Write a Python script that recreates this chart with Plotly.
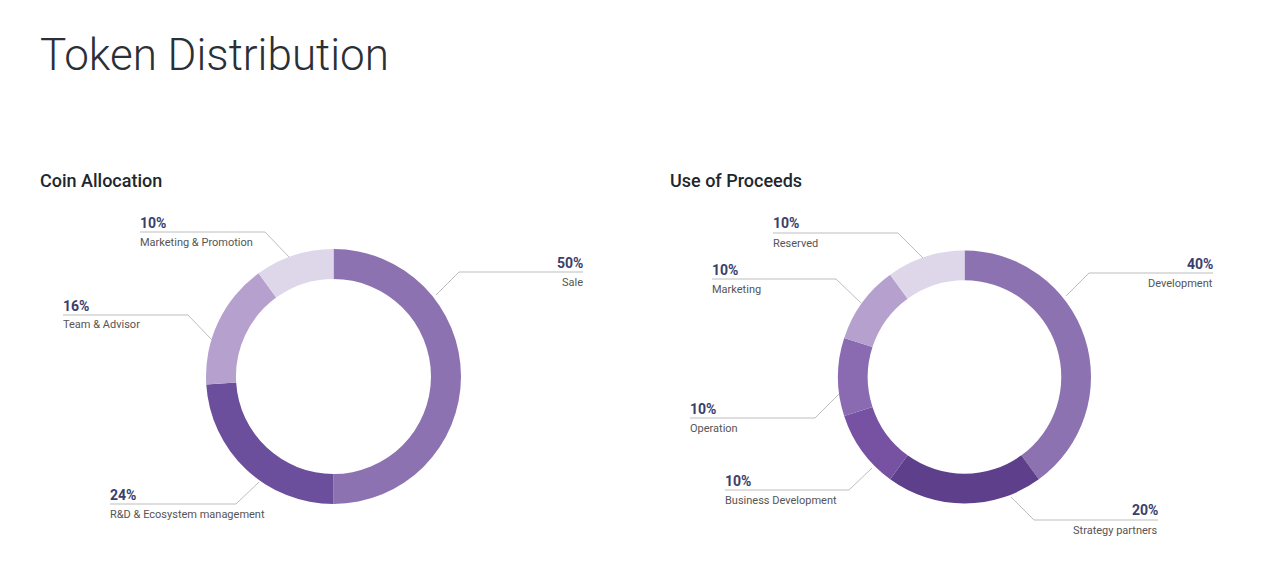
import plotly.graph_objects as go

W, H = 1280, 583

# chart data
coin_labels = ['Sale', 'R&D & Ecosystem management', 'Team & Advisor', 'Marketing & Promotion']
coin_values = [50, 24, 16, 10]
coin_colors = ['#8C72B0', '#6C4F9C', '#B6A1CE', '#DED6E9']

proceeds_labels = ['Development', 'Strategy partners', 'Business Development',
                   'Operation', 'Marketing', 'Reserved']
proceeds_values = [40, 20, 10, 10, 10, 10]
proceeds_colors = ['#8C72B0', '#5D3F8C', '#7752A3', '#8A6AB1', '#B6A1CE', '#DED6E9']

# callout layout in pixels: text x, percent y, elbow (x, y), ring point (x, y), side
coin_callouts = [
    (583, 263, (459, 272), (436, 295), 'right'),
    (110, 495, (236, 504), (259, 482), 'left'),
    (63, 306, (188, 315), (212, 340), 'left'),
    (140, 223, (265, 232), (289, 257), 'left'),
]
proceeds_callouts = [
    (1213, 264, (1089, 273), (1066, 296), 'right'),
    (1158, 510, (1034, 520), (1011, 497), 'right'),
    (725, 481, (849, 490), (872, 468), 'left'),
    (690, 409, (815, 418), (839, 394), 'left'),
    (712, 270, (836, 279), (861, 303), 'left'),
    (773, 223, (898, 233), (923, 258), 'left'),
]


def px(x):
    return x / W


def py(y):
    return 1 - y / H


fig = go.Figure()

fig.add_trace(go.Pie(
    labels=coin_labels, values=coin_values, hole=0.765, sort=False,
    direction='clockwise', rotation=0, textinfo='none',
    marker=dict(colors=coin_colors, line=dict(width=0)),
    domain=dict(x=[px(206), px(461)], y=[py(504), py(249)]),
    showlegend=False,
))
fig.add_trace(go.Pie(
    labels=proceeds_labels, values=proceeds_values, hole=0.765, sort=False,
    direction='clockwise', rotation=0, textinfo='none',
    marker=dict(colors=proceeds_colors, line=dict(width=0)),
    domain=dict(x=[px(838), px(1091)], y=[py(504), py(250)]),
    showlegend=False,
))

shapes = []
annotations = []
line_color = '#BDBDBD'

for labels, values, callouts in [(coin_labels, coin_values, coin_callouts),
                                 (proceeds_labels, proceeds_values, proceeds_callouts)]:
    for lab, val, (tx, ty, elbow, ring, side) in zip(labels, values, callouts):
        ex, ey = elbow
        rx, ry = ring
        # horizontal rule under the percentage, then diagonal to the ring
        shapes.append(dict(type='line', xref='paper', yref='paper',
                           x0=px(tx), y0=py(ey), x1=px(ex), y1=py(ey),
                           line=dict(color=line_color, width=1)))
        shapes.append(dict(type='line', xref='paper', yref='paper',
                           x0=px(ex), y0=py(ey), x1=px(rx), y1=py(ry),
                           line=dict(color=line_color, width=1)))
        anchor = 'left' if side == 'left' else 'right'
        shift = -2 if side == 'left' else 2
        annotations.append(dict(
            x=px(tx), y=py(ty), xref='paper', yref='paper', xshift=shift,
            xanchor=anchor, yanchor='middle', showarrow=False,
            text=f'<b>{val}%</b>',
            font=dict(family='Roboto', size=14, color='#3A3E6C'),
        ))
        annotations.append(dict(
            x=px(tx), y=py(ey + 10), xref='paper', yref='paper', xshift=shift,
            xanchor=anchor, yanchor='middle', showarrow=False,
            text=lab,
            font=dict(family='Roboto', size=11, color='#555555'),
        ))

# headings
annotations.append(dict(x=px(38), y=py(55), xref='paper', yref='paper',
                        xanchor='left', yanchor='middle', showarrow=False,
                        text='Token Distribution',
                        font=dict(family='Roboto', size=44, weight=300, color='#2B3036')))
annotations.append(dict(x=px(38), y=py(180), xref='paper', yref='paper',
                        xanchor='left', yanchor='middle', showarrow=False,
                        text='Coin Allocation',
                        font=dict(family='Roboto', size=18, weight=500, color='#1E272D')))
annotations.append(dict(x=px(668), y=py(180), xref='paper', yref='paper',
                        xanchor='left', yanchor='middle', showarrow=False,
                        text='Use of Proceeds',
                        font=dict(family='Roboto', size=18, weight=500, color='#1E272D')))

fig.update_layout(
    width=W, height=H, autosize=False,
    margin=dict(l=0, r=0, t=0, b=0),
    paper_bgcolor='white', plot_bgcolor='white',
    shapes=shapes, annotations=annotations,
)

fig.write_html('out.html', config={'displayModeBar': False},
               post_script="document.body.style.margin='0';")
